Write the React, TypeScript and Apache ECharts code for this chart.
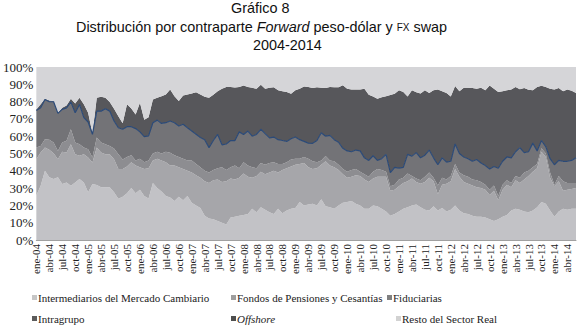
import React, { useEffect, useRef } from "react";
import * as echarts from "echarts";

const MONTHS = ["ene", "feb", "mar", "abr", "may", "jun", "jul", "ago", "sep", "oct", "nov", "dic"];
const YEARS = ["04", "05", "06", "07", "08", "09", "10", "11", "12", "13", "14"];
const LAST_MONTH_INDEX_2014 = 5; // jun-14

const categories: string[] = [];
YEARS.forEach((y, yi) => {
  MONTHS.forEach((m, mi) => {
    if (yi === YEARS.length - 1 && mi > LAST_MONTH_INDEX_2014) return;
    categories.push(`${m}-${y}`);
  });
});

const yTicks = ["0%", "10%", "20%", "30%", "40%", "50%", "60%", "70%", "80%", "90%", "100%"];

const intermediarios = [
  25.7, 31.4, 40.0, 36.2, 35.2, 36.2, 32.4, 33.3, 31.4, 33.3,
  35.2, 33.3, 27.6, 32.4, 31.8, 30.5, 30.5, 30.5, 27.6, 23.8,
  25.0, 27.0, 30.0, 27.0, 29.0, 25.5, 24.0, 33.0, 30.0, 28.0,
  25.5, 24.5, 22.5, 25.0, 23.0, 25.5, 21.5, 20.0, 18.5, 14.0,
  12.5, 12.0, 11.0, 10.0, 9.0, 13.0, 13.5, 14.0, 14.5, 15.0,
  18.0, 16.0, 19.0, 17.5, 16.0, 15.0, 18.0, 15.5, 17.0, 18.0,
  18.5, 22.0, 20.0, 20.5, 21.0, 20.0, 23.5, 19.5, 19.0, 18.0,
  20.0, 21.5, 22.0, 22.5, 21.0, 20.0, 18.0, 18.0, 20.0, 19.5,
  18.0, 16.5, 14.0, 15.0, 16.5, 18.0, 19.0, 20.0, 20.5, 19.0,
  17.5, 17.0, 19.5, 17.0, 18.5, 16.5, 17.5, 20.0, 17.0, 15.5,
  15.0, 14.0, 13.5, 13.5, 13.0, 12.0, 11.0, 12.0, 13.5, 14.5,
  17.0, 18.0, 17.5, 16.5, 16.0, 17.0, 19.0, 22.0, 21.0, 17.0,
  13.5, 16.5, 18.0, 17.5, 18.0, 18.0,
];

const fondos = [
  21.0, 19.2, 13.4, 15.9, 15.0, 10.5, 18.6, 17.3, 24.0, 16.3,
  13.5, 16.3, 20.1, 12.4, 21.6, 20.1, 19.1, 19.1, 19.1, 17.2,
  16.0, 15.5, 15.0, 16.0, 13.0, 15.5, 17.5, 13.0, 17.0, 18.0,
  19.5, 18.5, 20.5, 17.0, 18.0, 14.5, 17.5, 17.5, 17.5, 20.0,
  20.5, 22.5, 24.0, 23.5, 25.0, 22.5, 21.5, 22.0, 24.0, 21.5,
  18.0, 21.0, 20.5, 20.5, 23.0, 25.0, 21.0, 25.0, 24.5, 24.5,
  25.0, 22.0, 24.5, 21.5, 20.0, 21.5, 20.0, 26.0, 24.0, 24.0,
  20.5, 16.5, 14.0, 14.0, 16.5, 17.0, 17.0, 15.5, 15.5, 17.0,
  18.5, 20.0, 14.5, 14.0, 14.5, 15.0, 15.0, 15.5, 13.0, 13.5,
  16.0, 19.0, 14.5, 9.5, 13.5, 16.0, 16.5, 21.0, 19.5, 18.0,
  17.5, 17.5, 17.0, 16.5, 16.0, 14.0, 17.5, 11.0, 15.5, 17.5,
  13.5, 16.5, 15.5, 18.5, 21.0, 22.5, 22.5, 29.0, 27.0, 19.0,
  17.5, 17.5, 10.5, 11.5, 11.5, 12.0,
];

const fiduciarias = [
  6.7, 3.8, 4.8, 5.8, 6.1, 4.8, 5.3, 6.7, 8.6, 6.7,
  6.7, 3.8, 4.8, 2.9, 5.8, 5.7, 5.8, 4.8, 6.2, 8.6,
  5.5, 5.5, 4.0, 3.0, 5.0, 4.0, 4.5, 4.0, 4.0, 4.0,
  6.0, 7.5, 6.0, 6.0, 6.0, 6.0, 7.0, 6.5, 6.0, 6.0,
  6.0, 6.0, 6.5, 8.5, 6.5, 6.5, 8.0, 5.5, 6.5, 6.5,
  6.0, 4.5, 5.0, 5.5, 5.5, 5.0, 5.0, 3.5, 3.5, 4.0,
  3.5, 3.0, 3.5, 5.0, 4.5, 3.5, 2.5, 3.0, 3.0, 3.5,
  3.0, 3.0, 3.5, 4.0, 3.5, 2.5, 3.0, 3.0, 4.0, 4.5,
  4.0, 3.0, 2.5, 3.0, 4.0, 3.0, 4.5, 1.5, 2.0, 2.0,
  3.0, 3.0, 2.0, 5.0, 4.0, 2.5, 3.0, 3.0, 2.5, 4.0,
  4.0, 3.5, 4.0, 3.5, 3.0, 3.0, 3.0, 2.5, 3.0, 2.5,
  2.5, 2.5, 3.0, 4.0, 3.0, 2.5, 2.5, 2.0, 2.0, 3.0,
  1.0, 3.0, 5.5, 4.0, 3.5, 3.0,
];

const intragrupo = [
  21.5, 22.0, 23.0, 22.0, 23.6, 21.7, 19.2, 19.1, 15.7, 17.3,
  23.0, 17.3, 15.7, 13.4, 15.3, 18.2, 20.5, 20.1, 15.9, 15.3,
  17.5, 17.5, 16.5, 18.4, 15.5, 14.8, 14.2, 17.8, 18.3, 17.4,
  16.8, 18.3, 18.8, 17.9, 19.9, 18.9, 17.0, 17.1, 17.2, 17.9,
  14.4, 17.0, 19.5, 13.0, 15.0, 15.5, 14.5, 21.0, 16.0, 20.0,
  18.0, 19.5, 19.5, 18.0, 14.5, 14.5, 14.0, 13.5, 12.0, 12.0,
  12.5, 11.0, 9.0, 9.0, 10.4, 12.5, 16.0, 11.5, 14.5, 12.5,
  13.0, 12.0, 12.0, 10.5, 11.0, 12.0, 9.5, 9.5, 9.2, 5.0,
  6.5, 10.0, 8.0, 10.0, 6.5, 6.0, 11.0, 11.5, 15.0, 13.0,
  12.5, 13.0, 11.5, 12.0, 11.5, 10.0, 8.5, 11.5, 11.0, 10.5,
  10.5, 10.5, 12.0, 11.0, 11.0, 12.0, 11.0, 16.0, 13.5, 13.5,
  14.5, 14.0, 17.4, 11.5, 11.0, 14.0, 7.5, 4.5, 4.0, 8.0,
  11.5, 9.0, 11.5, 12.5, 13.0, 14.5,
];

const offshore = [
  0.6, 2.0, 0.4, 0.8, 0.4, 0.4, 0.9, 1.4, 1.9, 5.3,
  3.8, 7.7, 5.4, 0.5, 7.7, 8.3, 6.3, 5.2, 7.1, 6.7,
  3.5, 13.0, 10.5, 8.2, 16.8, 9.7, 10.8, 13.4, 12.9, 15.7,
  16.3, 18.2, 15.3, 14.4, 16.6, 19.2, 21.7, 24.3, 24.9, 24.9,
  28.8, 26.5, 25.0, 32.5, 33.0, 31.0, 30.7, 26.0, 28.3, 25.5,
  28.0, 26.4, 25.8, 25.9, 29.0, 28.8, 28.5, 28.5, 28.5, 26.0,
  27.0, 29.5, 31.7, 32.5, 32.0, 30.8, 26.0, 27.9, 28.0, 30.3,
  31.8, 36.5, 36.0, 36.0, 35.0, 35.5, 39.9, 38.0, 34.3, 35.6,
  35.5, 33.6, 44.8, 42.5, 45.0, 43.5, 33.5, 38.0, 34.9, 37.2,
  37.6, 33.0, 39.0, 43.5, 38.5, 40.0, 37.5, 33.5, 36.0, 40.0,
  41.0, 42.3, 40.9, 43.5, 43.5, 48.3, 45.0, 44.0, 40.5, 38.5,
  39.5, 37.5, 33.8, 37.3, 35.8, 30.6, 37.0, 31.7, 34.5, 40.5,
  43.5, 41.8, 40.5, 41.5, 40.3, 37.5,
];

const resto = [
  24.5, 21.6, 18.4, 19.3, 19.7, 26.4, 23.6, 22.2, 18.4, 21.1,
  17.8, 21.6, 26.4, 38.4, 17.8, 17.2, 17.8, 20.3, 24.1, 28.4,
  32.5, 21.5, 24.0, 27.4, 20.7, 30.5, 29.0, 18.8, 17.8, 16.9,
  15.9, 13.0, 16.9, 19.7, 16.5, 15.9, 15.3, 14.6, 15.9, 17.2,
  17.8, 16.0, 14.0, 12.5, 11.5, 11.5, 11.8, 11.5, 10.7, 11.5,
  12.0, 12.6, 10.2, 12.6, 12.0, 11.7, 13.5, 14.0, 14.5, 15.5,
  13.5, 12.5, 11.3, 11.5, 12.1, 11.7, 12.0, 12.1, 11.5, 11.7,
  11.7, 10.5, 12.5, 13.0, 13.0, 13.0, 12.6, 16.0, 17.0, 18.4,
  17.5, 16.9, 16.2, 15.5, 13.5, 14.5, 17.0, 13.5, 14.6, 15.3,
  13.4, 15.0, 13.5, 13.0, 14.0, 15.0, 17.0, 11.0, 14.0, 12.0,
  12.0, 12.2, 12.6, 12.0, 13.5, 10.7, 12.5, 14.5, 14.0, 13.5,
  13.0, 11.5, 12.8, 12.2, 13.2, 13.4, 11.5, 10.8, 11.5, 12.5,
  13.0, 12.2, 14.0, 13.0, 13.7, 15.0,
];

const SERIES_NAMES = [
  "Intermediarios del Mercado Cambiario",
  "Fondos de Pensiones y Cesantías",
  "Fiduciarias",
  "Intragrupo",
  "Offshore",
  "Resto del Sector Real",
];
const SERIES_DATA = [intermediarios, fondos, fiduciarias, intragrupo, offshore, resto];
const AREA_COLORS = ["#c2c2c6", "#a6a6aa", "#8d8d91", "#737377", "#57575b", "#d5d5d8"];
const LEGEND_COLORS = ["#c6c6c6", "#9e9e9e", "#808080", "#5c5c5c", "#4e4e4e", "#d2d2d2"];
const LEGEND_POS = [
  { left: 32, top: 292 },
  { left: 231, top: 292 },
  { left: 387, top: 292 },
  { left: 32, top: 313 },
  { left: 231, top: 313 },
  { left: 396, top: 313 },
];

const SERIF = "Liberation Serif";
const SANS = "Liberation Sans";

export default function App() {
  const ref = useRef<HTMLDivElement>(null);

  useEffect(() => {
    if (!ref.current) return;
    const chart = echarts.init(ref.current, undefined, { renderer: "svg" });

    const series = SERIES_NAMES.map((name, idx) => ({
      name,
      type: "line",
      stack: "total",
      data: SERIES_DATA[idx],
      symbol: "none",
      showSymbol: false,
      color: LEGEND_COLORS[idx],
      lineStyle:
        name === "Intragrupo"
          ? { color: "#2b4a78", width: 1.2 }
          : { width: 0, opacity: 0 },
      areaStyle: { color: AREA_COLORS[idx], opacity: 1 },
      z: name === "Intragrupo" ? 3 : 2,
    }));

    const legends = SERIES_NAMES.map((name, idx) => ({
      data: [
        name === "Offshore"
          ? { name, textStyle: { fontStyle: "italic", fontFamily: SERIF, fontSize: 11 } }
          : { name },
      ],
      left: LEGEND_POS[idx].left,
      top: LEGEND_POS[idx].top,
      icon: "rect",
      itemWidth: 5,
      itemHeight: 5,
      padding: 0,
      selectedMode: false,
      textStyle: { fontFamily: SERIF, fontSize: 11, color: "#222", padding: [0, 0, 0, -4] },
    }));

    chart.setOption({
      animation: false,
      backgroundColor: "#ffffff",
      title: [
        {
          text: "Gráfico 8",
          left: 231,
          top: 1,
          padding: 0,
          textStyle: { fontFamily: SANS, fontSize: 14.4, fontWeight: "normal", color: "#111" },
        },
        {
          text: "Distribución por contraparte {i|Forward} peso-dólar y {s|FX} swap",
          left: 76,
          top: 20,
          padding: 0,
          textStyle: {
            fontFamily: SANS,
            fontSize: 14.4,
            fontWeight: "normal",
            color: "#111",
            rich: {
              i: { fontFamily: SANS, fontSize: 14.4, fontStyle: "italic", color: "#111" },
              s: { fontFamily: SANS, fontSize: 10, color: "#111" },
            },
          },
        },
        {
          text: "2004-2014",
          left: 253,
          top: 38,
          padding: 0,
          textStyle: { fontFamily: SANS, fontSize: 14.4, fontWeight: "normal", color: "#111" },
        },
      ],
      legend: legends,
      grid: { left: 32, right: 4, top: 67, bottom: 91, containLabel: false },
      xAxis: {
        type: "category",
        data: categories,
        boundaryGap: false,
        axisLine: { show: true, lineStyle: { color: "#a0a0a0" } },
        axisTick: { show: false },
        axisLabel: {
          rotate: 90,
          interval: 2,
          fontFamily: SERIF,
          fontSize: 11,
          color: "#222",
          margin: 4,
        },
        splitLine: { show: false },
      },
      yAxis: {
        type: "value",
        min: 0,
        max: 100,
        interval: 10,
        axisLine: { show: false },
        axisTick: { show: false },
        splitLine: { show: false },
        axisLabel: {
          formatter: (v: number) => yTicks[Math.round(v / 10)],
          fontFamily: SERIF,
          fontSize: 13,
          color: "#222",
          margin: 3,
        },
      },
      series,
    });

    return () => chart.dispose();
  }, []);

  return (
    <div
      ref={ref}
      style={{ position: "fixed", left: 0, top: 0, width: 580, height: 331, background: "#fff" }}
    />
  );
}
